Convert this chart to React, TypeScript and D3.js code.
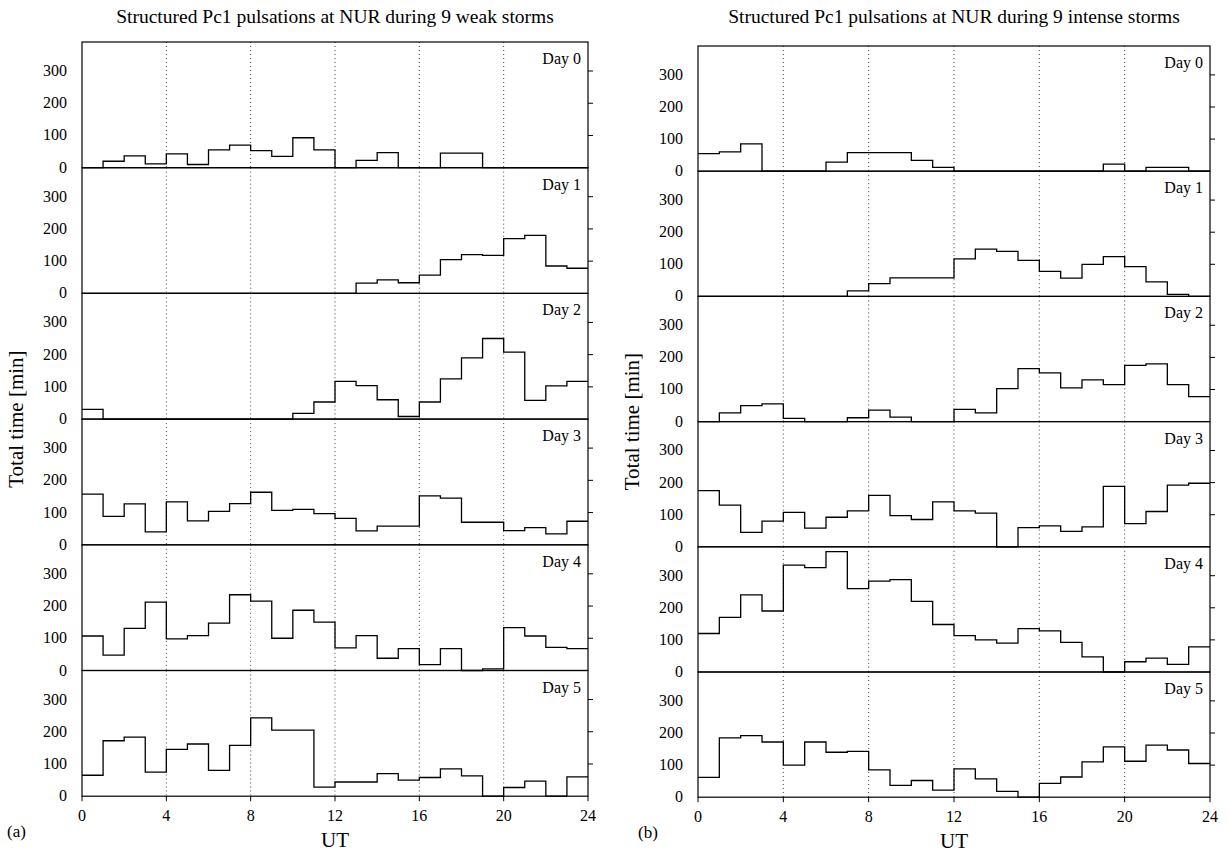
import React from "react";
import * as d3 from "d3";

const HOURS = d3.range(24);
const X_TICKS = [0, 4, 8, 12, 16, 20, 24];
const Y_TICKS = [0, 100, 200, 300];
const DAY_LABELS = ["Day 0", "Day 1", "Day 2", "Day 3", "Day 4", "Day 5"];

const weakDay0 = [0, 20, 37, 12, 43, 10, 55, 70, 53, 35, 93, 55, 0, 23, 47, 0, 0, 45, 45, 0, 0, 0, 0, 0];
const weakDay1 = [0, 0, 0, 0, 0, 0, 0, 0, 0, 0, 0, 0, 0, 32, 42, 33, 57, 105, 120, 118, 170, 180, 85, 78];
const weakDay2 = [30, 0, 0, 0, 0, 0, 0, 0, 0, 0, 18, 53, 117, 104, 60, 8, 53, 125, 190, 250, 208, 58, 103, 117];
const weakDay3 = [157, 88, 127, 40, 133, 74, 104, 128, 163, 107, 110, 97, 82, 43, 58, 58, 152, 145, 70, 70, 44, 53, 34, 73];
const weakDay4 = [107, 48, 131, 212, 98, 108, 147, 235, 215, 100, 187, 150, 70, 108, 38, 68, 18, 68, 0, 5, 133, 107, 72, 68];
const weakDay5 = [65, 172, 183, 75, 145, 162, 80, 158, 243, 205, 205, 28, 44, 44, 70, 50, 58, 85, 63, 0, 27, 47, 0, 60];

const intenseDay0 = [55, 60, 85, 0, 0, 0, 28, 58, 58, 58, 34, 12, 0, 0, 0, 0, 0, 0, 0, 22, 0, 12, 12, 0];
const intenseDay1 = [0, 0, 0, 0, 0, 0, 0, 17, 40, 58, 58, 58, 117, 147, 140, 112, 78, 57, 100, 124, 93, 45, 6, 0];
const intenseDay2 = [0, 27, 50, 55, 10, 0, 0, 12, 36, 14, 0, 0, 38, 27, 103, 165, 152, 105, 130, 115, 175, 180, 115, 78];
const intenseDay3 = [175, 130, 45, 80, 107, 58, 92, 112, 160, 97, 85, 140, 112, 105, 0, 60, 65, 48, 62, 188, 72, 110, 192, 198];
const intenseDay4 = [120, 170, 240, 190, 333, 325, 375, 260, 283, 288, 220, 148, 113, 100, 90, 135, 128, 92, 47, 0, 32, 43, 24, 78];
const intenseDay5 = [62, 185, 192, 172, 100, 172, 140, 143, 85, 37, 52, 22, 88, 57, 18, 0, 43, 63, 110, 157, 112, 162, 147, 105];

const weakSeries = [weakDay0, weakDay1, weakDay2, weakDay3, weakDay4, weakDay5];
const intenseSeries = [intenseDay0, intenseDay1, intenseDay2, intenseDay3, intenseDay4, intenseDay5];

const FONT = "'Liberation Serif', 'Times New Roman', serif";

type PanelProps = {
  series: number[][];
  x0: number;
  x1: number;
  top: number;
  subH: number;
  title: string;
  letter: string;
  letterX: number;
};

function Panel({ series, x0, x1, top, subH, title, letter, letterX }: PanelProps) {
  const x = d3.scaleLinear().domain([0, 24]).range([x0, x1]);
  const bottom = top + subH * series.length;
  const cx = (x0 + x1) / 2;
  return (
    <g>
      <text x={cx} y={23} textAnchor="middle" fontSize={19.5} fontFamily={FONT}>
        {title}
      </text>
      {series.map((vals, i) => {
        const yTop = top + i * subH;
        const y = d3.scaleLinear().domain([0, 390]).range([yTop + subH, yTop]);
        const pts: [number, number][] = HOURS.map((h) => [h, vals[h]] as [number, number]);
        pts.push([24, vals[23]]);
        const line = d3
          .line<[number, number]>()
          .x((d) => x(d[0]))
          .y((d) => y(d[1]))
          .curve(d3.curveStepAfter);
        return (
          <g key={i}>
            {[4, 8, 12, 16, 20].map((t) => (
              <line
                key={t}
                x1={x(t)}
                x2={x(t)}
                y1={yTop}
                y2={yTop + subH}
                stroke="#444"
                strokeWidth={1}
                strokeDasharray="1,3"
              />
            ))}
            <rect x={x0} y={yTop} width={x1 - x0} height={subH} fill="none" stroke="#000" strokeWidth={1.2} />
            {Y_TICKS.map((t) => (
              <g key={t}>
                <text
                  x={x0 - 15}
                  y={y(t) + 5}
                  textAnchor="end"
                  fontSize={16}
                  fontFamily={FONT}
                >
                  {t}
                </text>
                {t > 0 && (
                  <line x1={x1} x2={x1 + 5} y1={y(t)} y2={y(t)} stroke="#000" strokeWidth={1} />
                )}
              </g>
            ))}
            <path d={line(pts) || ""} fill="none" stroke="#000" strokeWidth={1.3} />
            <text x={x1 - 7} y={yTop + 22} textAnchor="end" fontSize={16} fontFamily={FONT}>
              {DAY_LABELS[i]}
            </text>
          </g>
        );
      })}
      {X_TICKS.map((t) => (
        <g key={t}>
          <line x1={x(t)} x2={x(t)} y1={bottom} y2={bottom + 5} stroke="#000" strokeWidth={1} />
          <text x={x(t)} y={bottom + 25} textAnchor="middle" fontSize={16} fontFamily={FONT}>
            {t}
          </text>
        </g>
      ))}
      <text x={cx} y={bottom + 51} textAnchor="middle" fontSize={21} fontFamily={FONT}>
        UT
      </text>
      <text
        transform={`translate(${x0 - 59},${(top + bottom) / 2}) rotate(-90)`}
        textAnchor="middle"
        fontSize={21}
        fontFamily={FONT}
      >
        Total time [min]
      </text>
      <text x={letterX} y={bottom + 41} fontSize={17} fontFamily={FONT}>
        {letter}
      </text>
    </g>
  );
}

export default function App() {
  return (
    <svg
      width={1230}
      height={856}
      style={{ position: "absolute", left: 0, top: 0, background: "#fff" }}
    >
      <rect width={1230} height={856} fill="#fff" />
      <Panel
        series={weakSeries}
        x0={82}
        x1={588}
        top={42}
        subH={125.7}
        title="Structured Pc1 pulsations at NUR during 9 weak storms"
        letter="(a)"
        letterX={7}
      />
      <Panel
        series={intenseSeries}
        x0={698}
        x1={1210}
        top={46}
        subH={125.2}
        title="Structured Pc1 pulsations at NUR during 9 intense storms"
        letter="(b)"
        letterX={638}
      />
    </svg>
  );
}
